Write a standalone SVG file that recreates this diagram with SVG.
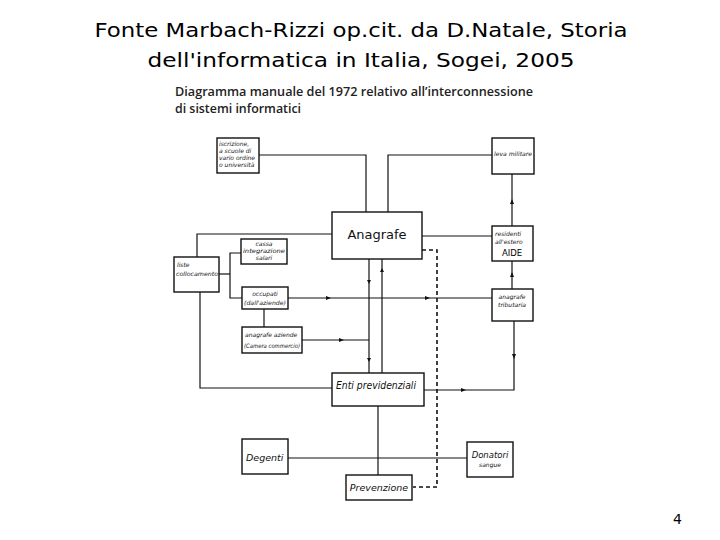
<svg xmlns="http://www.w3.org/2000/svg" width="720" height="540" viewBox="0 0 720 540">
<style>
.box{fill:#fff;stroke:#111;stroke-width:1.4}
.ln{fill:none;stroke:#111;stroke-width:1.2}
.dash{fill:none;stroke:#111;stroke-width:1.6;stroke-dasharray:4 3}
.hw{font-family:"DejaVu Sans",sans-serif;font-style:italic;fill:#111}
.up{font-family:"DejaVu Sans",sans-serif;font-style:normal;fill:#111}
.s{font-size:6px}
.t{font-family:"DejaVu Sans",sans-serif;fill:#000}
.sub{font-family:"Open Sans",sans-serif;font-weight:600;font-size:12px;fill:#222}
.tick{fill:#111}
</style>
<rect width="720" height="540" fill="#fff"/>
<text class="t" x="361" y="37" font-size="20" text-anchor="middle" textLength="533" lengthAdjust="spacingAndGlyphs">Fonte Marbach-Rizzi op.cit. da D.Natale, Storia</text>
<text class="t" x="361" y="67" font-size="20" text-anchor="middle" textLength="427" lengthAdjust="spacingAndGlyphs">dell'informatica in Italia, Sogei, 2005</text>
<text class="sub" x="175" y="96" textLength="358" lengthAdjust="spacingAndGlyphs">Diagramma manuale del 1972 relativo all’interconnessione</text>
<text class="sub" x="175" y="113" textLength="126" lengthAdjust="spacingAndGlyphs">di sistemi informatici</text>
<text class="t" x="673" y="524" font-size="14" font-family="'Liberation Sans',sans-serif">4</text>

<g id="connectors">
<polyline class="ln" points="259,155 366,155 366,212"/>
<polyline class="ln" points="388,212 388,155 492,155"/>
<line class="ln" x1="512" y1="174" x2="512" y2="226"/>
<line class="ln" x1="422" y1="236" x2="492" y2="236"/>
<line class="ln" x1="512" y1="261" x2="512" y2="289"/>
<polyline class="ln" points="514,321 514,390 424,390"/>
<line class="ln" x1="288" y1="298" x2="492" y2="298"/>
<polyline class="dash" points="422,250 437,250 437,487 413,487"/>
<line class="ln" x1="369" y1="259" x2="369" y2="373"/>
<line class="ln" x1="382" y1="259" x2="382" y2="373"/>
<line class="ln" x1="378" y1="406" x2="378" y2="475"/>
<line class="ln" x1="288" y1="458" x2="467" y2="458"/>
<polyline class="ln" points="197,257 197,234 332,234"/>
<polyline class="ln" points="200,292 200,388 332,388"/>
<line class="ln" x1="219" y1="274" x2="230" y2="274"/>
<polyline class="ln" points="241,253 230,253 230,298 242,298"/>
<line class="ln" x1="264" y1="309" x2="264" y2="327"/>
<line class="ln" x1="302" y1="340" x2="369" y2="340"/>
<polygon class="tick" points="512,199 510,204 514,204"/>
<polygon class="tick" points="512,272 510,277 514,277"/>
<polygon class="tick" points="514,359 512,354 516,354"/>
<polygon class="tick" points="466,390 461,388 461,392"/>
<polygon class="tick" points="331,298 326,296 326,300"/>
<polygon class="tick" points="430,298 425,296 425,300"/>
<polygon class="tick" points="344,340 339,338 339,342"/>
<polygon class="tick" points="369,284 367,280 371,280"/>
<polygon class="tick" points="382,268 380,272 384,272"/>
<polygon class="tick" points="369,362 367,358 371,358"/>
</g>

<g id="iscrizione">
<rect class="box" x="217" y="138" width="42" height="35"/>
<text class="hw s" x="219" y="146">iscrizione,</text>
<text class="hw s" x="219" y="153">a scuole di</text>
<text class="hw s" x="219" y="160">vario ordine</text>
<text class="hw s" x="219" y="167">o università</text>
</g>
<g id="leva">
<rect class="box" x="492" y="138" width="42" height="36"/>
<text class="hw s" x="494" y="156" textLength="38" lengthAdjust="spacingAndGlyphs">leva militare</text>
</g>
<g id="anagrafe">
<rect class="box" x="332" y="212" width="90" height="47"/>
<text class="up" x="377" y="239" font-size="13" text-anchor="middle">Anagrafe</text>
</g>
<g id="residenti">
<rect class="box" x="492" y="226" width="41" height="35"/>
<text class="hw s" x="495" y="236">residenti</text>
<text class="hw s" x="495" y="244">all'estero</text>
<text class="t" x="512" y="256" font-size="8.5" text-anchor="middle">AIDE</text>
</g>
<g id="tributaria">
<rect class="box" x="492" y="289" width="41" height="32"/>
<text class="hw s" x="512" y="299" text-anchor="middle">anagrafe</text>
<text class="hw s" x="512" y="307" text-anchor="middle">tributaria</text>
</g>
<g id="liste">
<rect class="box" x="174" y="257" width="45" height="35"/>
<text class="hw s" x="177" y="267">liste</text>
<text class="hw s" x="176" y="276" textLength="42" lengthAdjust="spacingAndGlyphs">collocamento</text>
</g>
<g id="cassa">
<rect class="box" x="241" y="239" width="46" height="25"/>
<text class="hw s" x="264" y="246" text-anchor="middle">cassa</text>
<text class="hw s" x="264" y="253" text-anchor="middle" textLength="42" lengthAdjust="spacingAndGlyphs">integrazione</text>
<text class="hw s" x="264" y="260" text-anchor="middle">salari</text>
</g>
<g id="occupati">
<rect class="box" x="242" y="287" width="46" height="22"/>
<text class="hw s" x="265" y="296" text-anchor="middle">occupati</text>
<text class="hw s" x="265" y="305" text-anchor="middle" textLength="42" lengthAdjust="spacingAndGlyphs">(dall'aziende)</text>
</g>
<g id="aziende">
<rect class="box" x="242" y="327" width="60" height="26"/>
<text class="hw s" x="245" y="337">anagrafe aziende</text>
<text class="hw s" x="244" y="348" textLength="56" lengthAdjust="spacingAndGlyphs">(Camera commercio)</text>
</g>
<g id="enti">
<rect class="box" x="332" y="373" width="92" height="33"/>
<text class="hw" x="336" y="389" font-size="10.5" textLength="80" lengthAdjust="spacingAndGlyphs">Enti  previdenziali</text>
</g>
<g id="degenti">
<rect class="box" x="242" y="439" width="46" height="35"/>
<text class="hw" x="246" y="461" font-size="9.5">Degenti</text>
</g>
<g id="donatori">
<rect class="box" x="467" y="442" width="46" height="35"/>
<text class="hw" x="490" y="458" font-size="8.5" text-anchor="middle">Donatori</text>
<text class="hw s" x="490" y="467" text-anchor="middle">sangue</text>
</g>
<g id="prevenzione">
<rect class="box" x="346" y="475" width="66" height="25"/>
<text class="hw" x="379" y="491" font-size="9.5" text-anchor="middle">Prevenzione</text>
</g>
</svg>
